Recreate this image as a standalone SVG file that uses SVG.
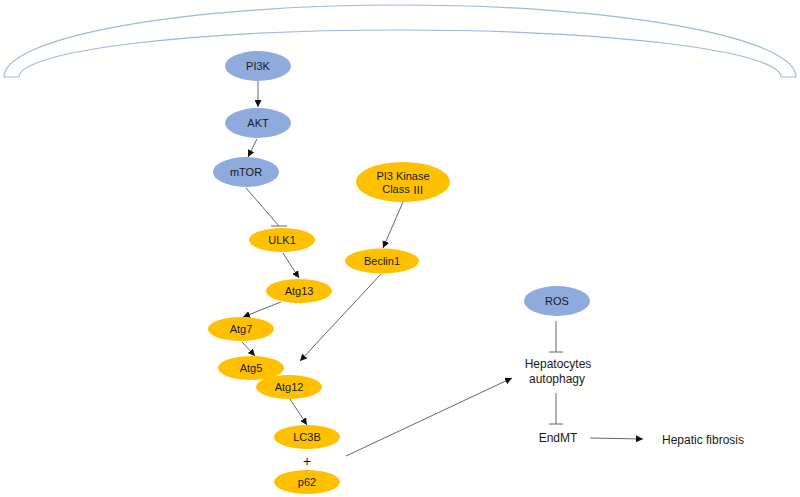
<svg xmlns="http://www.w3.org/2000/svg" width="800" height="497" viewBox="0 0 800 497">
<defs>
<marker id="arr" viewBox="0 0 10 10" refX="10" refY="5" markerWidth="7" markerHeight="7" markerUnits="userSpaceOnUse" orient="auto"><path d="M0,0 L10,5 L0,10 Z" fill="#111"/></marker>
</defs>
<style>
.b{fill:#8FAADC}
.y{fill:#FFC000}
.t{font-family:"Liberation Sans","Noto Sans CJK SC",Arial,sans-serif;font-size:11px;fill:#1a1a1a;text-anchor:middle;dominant-baseline:central}
.l{font-family:"Liberation Sans",Arial,sans-serif;font-size:12px;fill:#1a1a1a;text-anchor:middle;dominant-baseline:central}
.c{stroke:#555;stroke-width:0.9;fill:none}
.a{marker-end:url(#arr)}
</style>
<rect width="800" height="497" fill="#fff"/>
<path id="membrane" d="M4 77 A396 72 0 0 1 796 77 L781 77 A381 47 0 0 0 19 77 Z" fill="#fff" stroke="#9FB6E3" stroke-width="1.2"/>
<g id="connectors">
<line class="c a" x1="258" y1="81" x2="258" y2="107"/>
<line class="c a" x1="257" y1="139" x2="248" y2="157"/>
<line class="c" x1="246" y1="188" x2="279" y2="226"/>
<line class="c" x1="271" y1="226" x2="287" y2="226"/>
<line class="c a" x1="403" y1="202" x2="383" y2="248"/>
<line class="c a" x1="283" y1="253" x2="299" y2="278"/>
<line class="c a" x1="281" y1="302" x2="243" y2="317"/>
<line class="c a" x1="242" y1="342" x2="255" y2="356"/>
<line class="c a" x1="381" y1="274" x2="300" y2="361"/>
<line class="c a" x1="290" y1="399" x2="307" y2="425"/>
<line class="c a" x1="346" y1="456" x2="512" y2="378"/>
<line class="c" x1="556" y1="321" x2="556" y2="352"/>
<line class="c" x1="549" y1="352" x2="563" y2="352"/>
<line class="c" x1="556" y1="393" x2="556" y2="424"/>
<line class="c" x1="549" y1="424" x2="563" y2="424"/>
<line class="c a" x1="590" y1="438" x2="643" y2="439"/>
</g>
<g id="PI3K"><ellipse class="b" cx="258" cy="66" rx="33" ry="15"/><text class="t" x="258" y="66">PI3K</text></g>
<g id="AKT"><ellipse class="b" cx="258" cy="123" rx="33" ry="15"/><text class="t" x="258" y="123">AKT</text></g>
<g id="mTOR"><ellipse class="b" cx="246" cy="172" rx="33" ry="15"/><text class="t" x="246" y="172">mTOR</text></g>
<g id="PI3KC3"><ellipse class="y" cx="403" cy="182" rx="47" ry="20"/><text class="t" x="403" y="176">PI3 Kinase</text><text class="t" x="403" y="189">Class <tspan style="font-family:'Noto Sans CJK SC',sans-serif">Ⅲ</tspan></text></g>
<g id="ULK1"><ellipse class="y" cx="282" cy="240" rx="33" ry="12"/><text class="t" x="282" y="240">ULK1</text></g>
<g id="Beclin1"><ellipse class="y" cx="382" cy="261" rx="37" ry="12.5"/><text class="t" x="382" y="261">Beclin1</text></g>
<g id="Atg13"><ellipse class="y" cx="299" cy="291" rx="33" ry="12"/><text class="t" x="299" y="291">Atg13</text></g>
<g id="Atg7"><ellipse class="y" cx="241" cy="329" rx="33" ry="12"/><text class="t" x="241" y="329">Atg7</text></g>
<g id="Atg5"><ellipse class="y" cx="251" cy="368" rx="33" ry="12"/><text class="t" x="251" y="368">Atg5</text></g>
<g id="Atg12"><ellipse class="y" cx="289" cy="387" rx="33" ry="12"/><text class="t" x="289" y="387">Atg12</text></g>
<g id="LC3B"><ellipse class="y" cx="307" cy="437" rx="33" ry="12"/><text class="t" x="307" y="437">LC3B</text></g>
<g id="plus"><text class="l" x="307" y="461" style="font-size:14px">+</text></g>
<g id="p62"><ellipse class="y" cx="307" cy="482" rx="33" ry="12"/><text class="t" x="307" y="482">p62</text></g>
<g id="ROS"><ellipse class="b" cx="557" cy="301" rx="33" ry="15"/><text class="t" x="557" y="301">ROS</text></g>
<g id="Hepatocytes"><text class="l" x="558" y="364">Hepatocytes</text><text class="l" x="557" y="379">autophagy</text></g>
<g id="EndMT"><text class="l" x="558" y="438">EndMT</text></g>
<g id="Fibrosis"><text class="l" x="703" y="440">Hepatic fibrosis</text></g>
</svg>
